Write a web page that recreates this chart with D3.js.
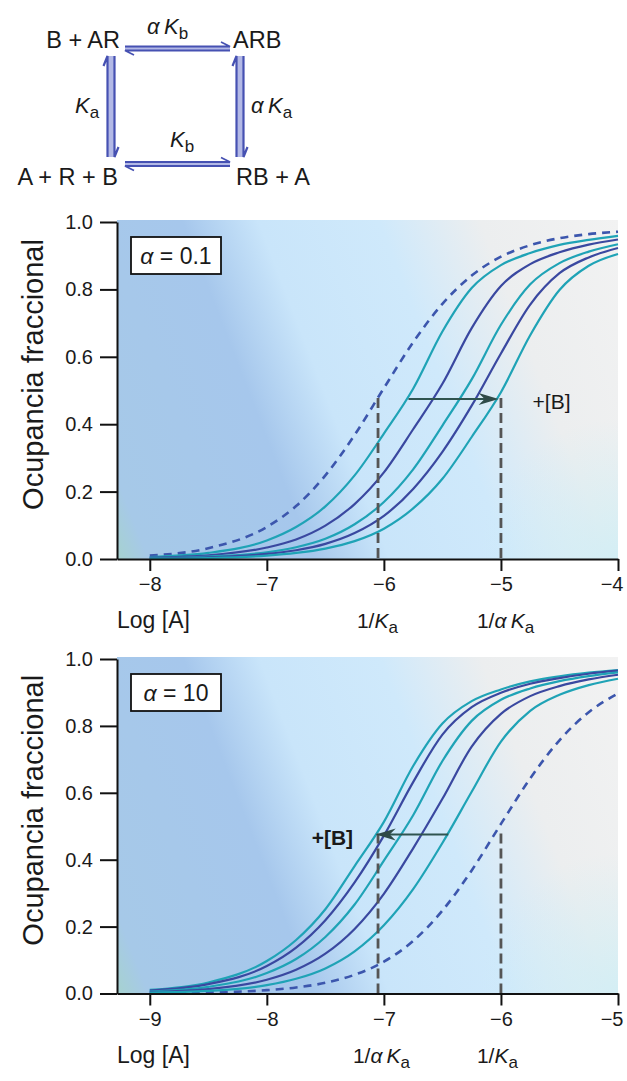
<!DOCTYPE html>
<html><head><meta charset="utf-8">
<script src="https://cdn.jsdelivr.net/npm/d3@7"></script>
<style>
body{margin:0;background:#fff}
svg{display:block}
text{font-family:"Liberation Sans",Arial,Helvetica,sans-serif;fill:#1a1a1a}
</style>
</head><body>
<script>
// ---------------- DATA ----------------
const xTop = [-8, -7.5, -7, -6.75, -6.5, -6.25, -6, -5.75, -5.5, -5.25, -5, -4.75, -4.5, -4.25, -4];
const topDashed = [0.010, 0.032, 0.095, 0.157, 0.248, 0.368, 0.507, 0.643, 0.757, 0.841, 0.897, 0.931, 0.952, 0.964, 0.971];
const topT1 = [0.006, 0.018, 0.055, 0.095, 0.156, 0.248, 0.372, 0.505, 0.675, 0.804, 0.872, 0.908, 0.932, 0.947, 0.959];
const topB1 = [0.004, 0.011, 0.034, 0.058, 0.099, 0.163, 0.257, 0.385, 0.520, 0.685, 0.810, 0.875, 0.910, 0.933, 0.948];
const topT2 = [0.002, 0.007, 0.020, 0.035, 0.060, 0.103, 0.169, 0.266, 0.396, 0.533, 0.695, 0.815, 0.878, 0.912, 0.934];
const topB2 = [0.002, 0.005, 0.015, 0.026, 0.045, 0.077, 0.128, 0.208, 0.318, 0.455, 0.610, 0.755, 0.848, 0.895, 0.923];
const topT3 = [0.001, 0.003, 0.010, 0.018, 0.031, 0.053, 0.090, 0.150, 0.238, 0.362, 0.495, 0.664, 0.798, 0.870, 0.905];

const xBot = [-9, -8.5, -8, -7.75, -7.5, -7.25, -7, -6.75, -6.5, -6.25, -6, -5.75, -5.5, -5.25, -5];
const botDashed = [0.001, 0.003, 0.010, 0.018, 0.032, 0.056, 0.095, 0.157, 0.248, 0.368, 0.507, 0.643, 0.757, 0.841, 0.897];
const botT1 = [0.011, 0.033, 0.097, 0.160, 0.252, 0.381, 0.513, 0.680, 0.807, 0.874, 0.909, 0.933, 0.948, 0.959, 0.967];
const botB1 = [0.009, 0.028, 0.082, 0.137, 0.219, 0.332, 0.472, 0.632, 0.774, 0.856, 0.899, 0.926, 0.943, 0.956, 0.965];
const botT2 = [0.006, 0.020, 0.061, 0.103, 0.169, 0.266, 0.397, 0.533, 0.695, 0.815, 0.878, 0.912, 0.934, 0.949, 0.960];
const botB2 = [0.004, 0.013, 0.041, 0.071, 0.119, 0.193, 0.298, 0.434, 0.582, 0.738, 0.836, 0.889, 0.919, 0.939, 0.953];
const botT3 = [0.003, 0.008, 0.025, 0.044, 0.075, 0.126, 0.204, 0.312, 0.450, 0.603, 0.753, 0.845, 0.893, 0.922, 0.941];

const yTicks = [0, 0.2, 0.4, 0.6, 0.8, 1.0];
const xTicksTop = [-8, -7, -6, -5, -4];
const xTicksBot = [-9, -8, -7, -6, -5];
const yTitle = "Ocupancia fraccional";
const xTitle = "Log [A]";
const guidesTop = [-6.05, -5.0];
const guidesBot = [-7.05, -6.0];
const arrowTop = [-5.79, -5.02, 0.475];
const arrowBot = [-6.45, -7.07, 0.475];

// ---------------- SETUP ----------------
const W = 627, H = 1081;
const svg = d3.select("body").append("svg").attr("width", W).attr("height", H);
const defs = svg.append("defs");

const TEAL = "#1fa3b6", BLUE = "#3a48a0", DASH = "#3c56ad";

// ---------------- DIAGRAM ----------------
const dg = svg.append("g");
const LAV = "#b3b9e6", EDGE = "#4651b2";
function hPair(x1, x2, y) {
  dg.append("rect").attr("x", x1).attr("y", y - 2.5).attr("width", x2 - x1).attr("height", 5).attr("fill", LAV);
  const p = d3.path();
  p.moveTo(x1, y - 2); p.lineTo(x2, y - 2); p.lineTo(x2 - 9, y - 6.5);
  p.moveTo(x2, y + 2); p.lineTo(x1, y + 2); p.lineTo(x1 + 9, y + 6.5);
  dg.append("path").attr("d", p.toString()).attr("fill", "none").attr("stroke", EDGE).attr("stroke-width", 1.8);
}
function vPair(x, y1, y2) {
  dg.append("rect").attr("x", x - 4).attr("y", y1).attr("width", 8).attr("height", y2 - y1).attr("fill", LAV);
  const p = d3.path();
  p.moveTo(x - 3.5, y2); p.lineTo(x - 3.5, y1); p.lineTo(x - 7.5, y1 + 10);
  p.moveTo(x + 3.5, y1); p.lineTo(x + 3.5, y2); p.lineTo(x + 7.5, y2 - 10);
  dg.append("path").attr("d", p.toString()).attr("fill", "none").attr("stroke", EDGE).attr("stroke-width", 2.2);
}
hPair(125, 230, 48.5);
hPair(125, 230, 164);
vPair(111, 56, 157);
vPair(240, 56, 157);

function dText(x, y, s, anchor) {
  dg.append("text").attr("x", x).attr("y", y).attr("font-size", 23.5).attr("text-anchor", anchor || "start").text(s);
}
dText(120, 48, "B + AR", "end");
dText(233, 48, "ARB");
dText(118, 185, "A + R + B", "end");
dText(236, 185, "RB + A");
function kLabel(x, y, alpha, sub) {
  const t = dg.append("text").attr("x", x).attr("y", y).attr("font-size", 22);
  if (alpha) t.append("tspan").attr("font-style", "italic").text("α\u2009");
  t.append("tspan").attr("font-style", "italic").text("K");
  t.append("tspan").attr("font-size", 17).attr("dy", 5).text(sub);
}
kLabel(147, 34, true, "b");
kLabel(75, 113, false, "a");
kLabel(251, 113, true, "a");
kLabel(170, 147, false, "b");

// ---------------- PANELS ----------------
function panel(cfg) {
  const {top, bottom, left, right, xDomain, xs, series, ticks, guides, arrow, alphaText, kLabels, plusLeft, id} = cfg;
  const x = d3.scaleLinear().domain(xDomain).range([left, right]);
  const y = d3.scaleLinear().domain([0, 1]).range([bottom, top]);
  const g = svg.append("g");

  // background gradient (diagonal)
  const dx = 0.932, dy = -0.362, L = 591;
  const grad = defs.append("linearGradient").attr("id", "bg" + id)
    .attr("gradientUnits", "userSpaceOnUse")
    .attr("x1", left).attr("y1", bottom).attr("x2", left + dx * L).attr("y2", bottom + dy * L);
  [[0, "#a6d2cf"], [0.05, "#a6c9e8"], [0.31, "#a6c7ec"], [0.43, "#c9e5fa"], [0.62, "#cfe9fb"],
   [0.78, "#eceeef"], [1, "#f2f2f2"]].forEach(s => grad.append("stop").attr("offset", s[0]).attr("stop-color", s[1]));
  g.append("rect").attr("x", left).attr("y", top - 2).attr("width", right - left).attr("height", bottom - top + 2)
    .attr("fill", `url(#bg${id})`);
  const g2 = defs.append("radialGradient").attr("id", "cy" + id).attr("gradientUnits", "userSpaceOnUse")
    .attr("cx", right).attr("cy", bottom).attr("r", 140);
  g2.append("stop").attr("offset", 0).attr("stop-color", "#cdeef6").attr("stop-opacity", 0.8);
  g2.append("stop").attr("offset", 1).attr("stop-color", "#cdeef6").attr("stop-opacity", 0);
  g.append("rect").attr("x", left).attr("y", top - 2).attr("width", right - left).attr("height", bottom - top + 2)
    .attr("fill", `url(#cy${id})`);

  // curves
  const line = d3.line().x((d, i) => x(xs[i])).y(d => y(d)).curve(d3.curveMonotoneX);
  g.append("path").attr("d", line(series[0])).attr("fill", "none").attr("stroke", DASH)
    .attr("stroke-width", 2.6).attr("stroke-dasharray", "8,6");
  series.slice(1).forEach((s, i) => {
    g.append("path").attr("d", line(s)).attr("fill", "none")
      .attr("stroke", i % 2 === 0 ? TEAL : BLUE).attr("stroke-width", 2.2);
  });

  // guide dashed lines
  guides.forEach(v => {
    g.append("line").attr("x1", x(v)).attr("x2", x(v)).attr("y1", y(arrow[2]) - 1).attr("y2", bottom)
      .attr("stroke", "#555").attr("stroke-width", 2.8).attr("stroke-dasharray", "10,5");
  });

  // arrow
  const ax1 = x(arrow[0]), ax2 = x(arrow[1]), ay = y(arrow[2]);
  const dir = Math.sign(ax2 - ax1);
  g.append("line").attr("x1", ax1).attr("x2", ax2 - dir * 10).attr("y1", ay).attr("y2", ay)
    .attr("stroke", "#2f5450").attr("stroke-width", 2);
  g.append("path").attr("d", `M${ax2},${ay} L${ax2 - dir * 20},${ay - 6} L${ax2 - dir * 14},${ay} L${ax2 - dir * 20},${ay + 6} Z`)
    .attr("fill", "#2f4a48");
  g.append("text").attr("x", plusLeft ? ax2 - 64 : ax2 + 34).attr("y", ay + 10).attr("font-size", 21)
    .attr("font-weight", plusLeft ? "bold" : "normal").text("+[B]");

  // axes
  const ya = g.append("g").attr("transform", `translate(${left},0)`)
    .call(d3.axisLeft(y).tickValues(yTicks).tickFormat(d3.format(".1f")).tickSize(17).tickSizeOuter(0).tickPadding(7));
  const xa = g.append("g").attr("transform", `translate(0,${bottom})`)
    .call(d3.axisBottom(x).tickValues(ticks).tickFormat(d3.format("d")).tickSize(12).tickSizeOuter(0).tickPadding(6));
  [ya, xa].forEach(a => {
    a.selectAll("path.domain").attr("stroke", "#111").attr("stroke-width", 2);
    a.selectAll(".tick line").attr("stroke", "#111").attr("stroke-width", 2);
    a.selectAll(".tick text").attr("font-size", 20).attr("fill", "#222")
      .attr("font-family", "'Liberation Sans',Arial,sans-serif");
  });
  xa.selectAll(".tick text").filter(d => d === ticks[ticks.length - 1])
    .attr("text-anchor", "end").attr("dx", 5);

  // alpha box
  g.append("rect").attr("x", 131).attr("y", top + 15).attr("width", 90).attr("height", 37)
    .attr("fill", "#fff").attr("stroke", "#111").attr("stroke-width", 1.8);
  const at = g.append("text").attr("x", 176).attr("y", top + 42).attr("text-anchor", "middle").attr("font-size", 23);
  at.append("tspan").attr("font-style", "italic").text("α");
  at.append("tspan").text(" = " + alphaText);

  // titles
  g.append("text").attr("transform", `translate(43,${(top + bottom) / 2 - 16}) rotate(-90)`)
    .attr("text-anchor", "middle").attr("font-size", 29).text(yTitle);
  g.append("text").attr("x", left).attr("y", bottom + 69).attr("font-size", 23).text(xTitle);

  kLabels.forEach(k => {
    const t = g.append("text").attr("x", x(k.v) + k.off).attr("y", bottom + 69).attr("font-size", 21);
    t.append("tspan").text("1/");
    if (k.alpha) t.append("tspan").attr("font-style", "italic").text("α\u2009");
    t.append("tspan").attr("font-style", "italic").text("K");
    t.append("tspan").attr("font-size", 17).attr("dy", 5).text("a");
  });
}

panel({id: "t", top: 222, bottom: 559, left: 117, right: 618, xDomain: [-8.28, -4], xs: xTop,
  series: [topDashed, topT1, topB1, topT2, topB2, topT3], ticks: xTicksTop, guides: guidesTop,
  arrow: arrowTop, alphaText: "0.1", plusLeft: false,
  kLabels: [{v: -6, off: -27, alpha: false}, {v: -5, off: -24, alpha: true}]});

panel({id: "b", top: 659, bottom: 993.5, left: 117, right: 618, xDomain: [-9.28, -5], xs: xBot,
  series: [botDashed, botT1, botB1, botT2, botB2, botT3], ticks: xTicksBot, guides: guidesBot,
  arrow: arrowBot, alphaText: "10", plusLeft: true,
  kLabels: [{v: -7, off: -31, alpha: true}, {v: -6, off: -24, alpha: false}]});
</script>
</body></html>
